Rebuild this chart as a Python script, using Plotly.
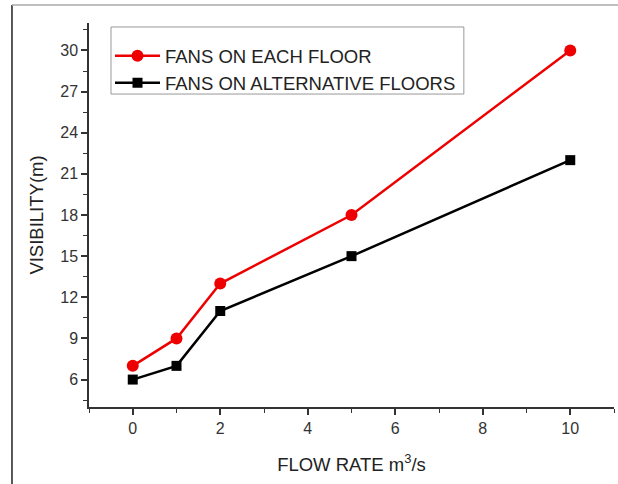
import plotly.graph_objects as go

flow_rate = [0, 1, 2, 5, 10]
each_floor = [7, 9, 13, 18, 30]
alt_floors = [6, 7, 11, 15, 22]
series_names = ["FANS ON EACH FLOOR", "FANS ON ALTERNATIVE FLOORS"]

FONT = "Arial, Liberation Sans, Helvetica, sans-serif"

fig = go.Figure()
fig.add_trace(go.Scatter(
    x=flow_rate, y=each_floor, name=series_names[0], mode="lines+markers",
    line=dict(color="#ee0000", width=2.5),
    marker=dict(symbol="circle", size=12, color="#ee0000"),
))
fig.add_trace(go.Scatter(
    x=flow_rate, y=alt_floors, name=series_names[1], mode="lines+markers",
    line=dict(color="#000000", width=2.5),
    marker=dict(symbol="square", size=10, color="#000000"),
))

axis_common = dict(
    showline=True, linecolor="#333333", linewidth=1.5, mirror=False,
    showgrid=False, zeroline=False, ticks="outside", ticklen=6, tickwidth=1.5,
    tickcolor="#333333", tickfont=dict(family=FONT, size=16, color="#333333"),
)

fig.update_xaxes(
    range=[-1, 11], tick0=0, dtick=2,
    minor=dict(dtick=1, tick0=0, ticks="outside", ticklen=4, tickwidth=1.2, tickcolor="#333333"),
    title=dict(text="FLOW RATE m<sup>3</sup>/s", font=dict(family=FONT, size=18.5, color="#222222"), standoff=22),
    **axis_common,
)
fig.update_yaxes(
    range=[4, 32], tick0=0, dtick=3,
    minor=dict(dtick=1.5, tick0=0, ticks="outside", ticklen=4, tickwidth=1.2, tickcolor="#333333"),
    title=dict(text="VISIBILITY(m)", font=dict(family=FONT, size=18.5, color="#222222"), standoff=12),
    **axis_common,
)

fig.update_layout(
    width=618, height=484,
    margin=dict(l=89, r=4, t=23, b=77),
    paper_bgcolor="white", plot_bgcolor="white",
    font=dict(family=FONT),
    legend=dict(
        x=0.04, y=0.963, xanchor="left", yanchor="top",
        bgcolor="rgba(0,0,0,0)", borderwidth=0,
        font=dict(family=FONT, size=18.5, color="#222222"),
        itemwidth=45, tracegroupgap=0,
    ),
    shapes=[
        dict(type="rect", xref="paper", yref="paper", x0=0.0419, x1=0.714, y0=0.815, y1=0.9896,
             line=dict(color="#999999", width=1), fillcolor="white", layer="below"),
        dict(type="line", xref="paper", yref="paper", x0=-0.1467, x1=-0.1467, y0=1.047, y1=-0.21,
             line=dict(color="#222222", width=1.5)),
        dict(type="line", xref="paper", yref="paper", x0=-0.1467, x1=1.01, y0=1.047, y1=1.047,
             line=dict(color="#aaaaaa", width=1.5)),
    ],
)

fig.write_html(
    "out.html",
    config={"displayModeBar": False},
    post_script="document.body.style.margin='0';document.body.style.overflow='hidden';",
)
